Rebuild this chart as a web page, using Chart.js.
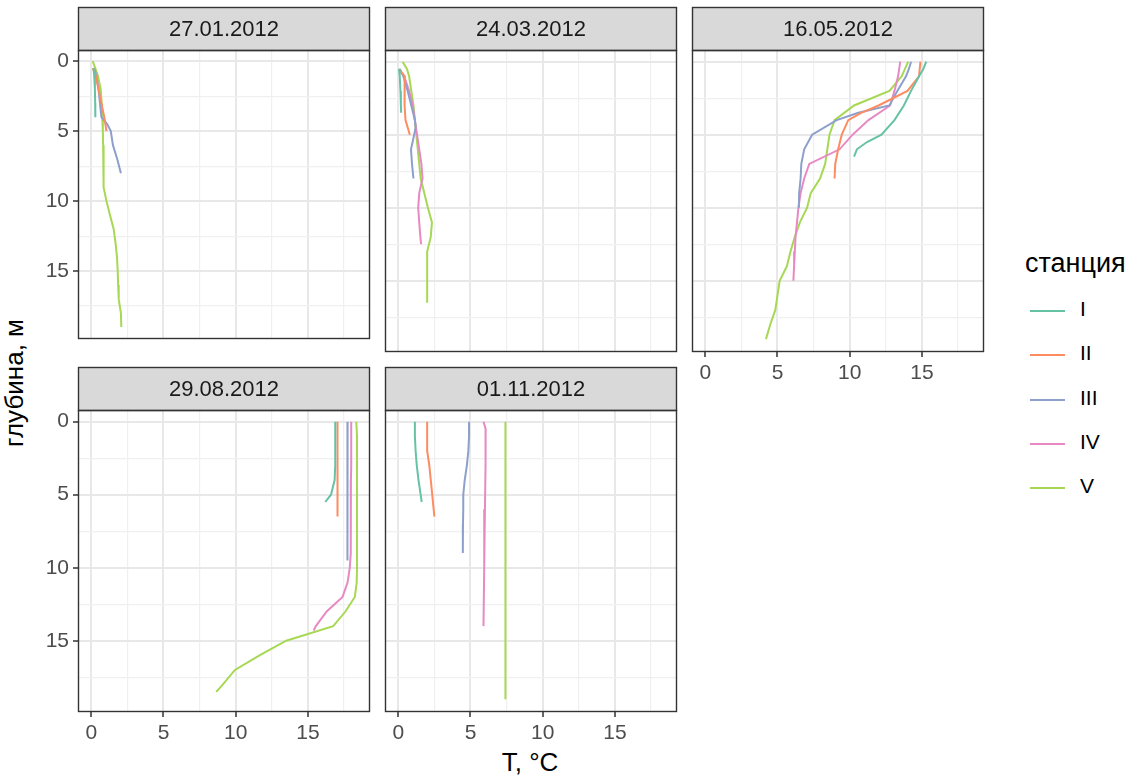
<!DOCTYPE html>
<html>
<head>
<meta charset="utf-8">
<script src="https://cdn.jsdelivr.net/npm/chart.js@4.4.1/dist/chart.umd.min.js"></script>
<style>
  html, body { margin: 0; padding: 0; background: #ffffff; }
  #wrap { position: relative; width: 1139px; height: 778px; overflow: hidden;
          font-family: "Liberation Sans", Arial, sans-serif; }
  #wrap canvas { position: absolute; }
  .axis-title { position: absolute; font-size: 26px; color: #000; white-space: nowrap; }
  #ytitle { left: 14px; top: 383px; transform: translate(-50%, -50%) rotate(-90deg); }
  #xtitle { left: 530px; top: 762px; transform: translate(-50%, -50%); }
  #legend { position: absolute; left: 1025px; top: 248px; }
  #legend .lg-title { font-size: 27px; color: #000; margin-bottom: 10px; }
  #legend .lg-row { position: relative; height: 44.3px; }
  #legend .lg-key { position: absolute; left: 5px; top: 21px; width: 35px; height: 2px; }
  #legend .lg-label { position: absolute; left: 55px; top: 8px; font-size: 21px; color: #000; }
</style>
</head>
<body>
<div id="wrap">
  <div id="ytitle" class="axis-title">глубина, м</div>
  <div id="xtitle" class="axis-title">T, °C</div>
  <div id="legend"></div>
</div>
<script>
// Survey dates (one facet each) and stations (one line each)
const dates = ['27.01.2012', '24.03.2012', '16.05.2012', '29.08.2012', '01.11.2012'];
const stations = ['I', 'II', 'III', 'IV', 'V'];
const stationColors = ['#66C2A5', '#FC8D62', '#8DA0CB', '#E78AC3', '#A6D854'];

// Axis ticks: labelled majors and unlabelled minors
const tempTicks = [0, 5, 10, 15];
const depthTicks = [0, 5, 10, 15];
const minorTicks = [2.5, 7.5, 12.5, 17.5];

// ---- 27.01.2012 : depth (m) / temperature (°C) profiles
const jan_I_depth   = [0.5, 1, 2, 3, 4];
const jan_I_temp    = [0.15, 0.2, 0.25, 0.27, 0.28];
const jan_II_depth  = [0.5, 1, 2, 3, 4, 5];
const jan_II_temp   = [0.1, 0.3, 0.5, 0.7, 0.9, 1.05];
const jan_III_depth = [0.5, 1, 2, 3, 4, 4.5, 5, 6, 7, 8];
const jan_III_temp  = [0.2, 0.35, 0.5, 0.6, 0.7, 1.1, 1.35, 1.5, 1.8, 2.05];
const jan_V_depth   = [0, 1, 2, 3, 4, 5, 6, 7, 8, 9, 10, 11, 12, 13, 14, 15, 16, 17, 18, 19];
const jan_V_temp    = [0.1, 0.45, 0.65, 0.72, 0.76, 0.8, 0.82, 0.84, 0.85, 0.87, 1.05, 1.3, 1.55, 1.68, 1.78, 1.83, 1.86, 1.9, 2.05, 2.08];

// ---- 24.03.2012
const mar_I_depth   = [0.5, 1, 2, 3, 3.5];
const mar_I_temp    = [0.05, 0.1, 0.15, 0.18, 0.2];
const mar_II_depth  = [0.5, 1, 2, 3, 4, 5];
const mar_II_temp   = [0.05, 0.45, 0.42, 0.45, 0.5, 0.8];
const mar_III_depth = [0.5, 1, 2, 3, 4, 4.5, 5, 6, 7, 8];
const mar_III_temp  = [0.1, 0.35, 0.65, 0.9, 1.15, 1.2, 1.1, 0.88, 0.95, 1.05];
const mar_IV_depth  = [0.5, 1, 2, 3, 4, 5, 6, 7, 8, 9, 10, 11, 12, 12.5];
const mar_IV_temp   = [0.05, 0.4, 0.75, 1.0, 1.15, 1.3, 1.45, 1.6, 1.68, 1.45, 1.38, 1.45, 1.53, 1.58];
const mar_V_depth   = [0, 0.5, 1, 2, 3, 4, 5, 6, 7, 8, 9, 10, 11, 12, 13, 14, 15, 16, 16.5];
const mar_V_temp    = [0.3, 0.6, 0.75, 0.9, 1.05, 1.15, 1.25, 1.35, 1.45, 1.55, 1.8, 2.05, 2.33, 2.25, 2.0, 2.0, 2.0, 2.0, 2.0];

// ---- 16.05.2012
const may_I_depth   = [0, 0.5, 1, 2, 3, 4, 5, 5.5, 6, 6.5];
const may_I_temp    = [15.3, 15.1, 14.8, 14.25, 13.75, 13.1, 12.2, 11.2, 10.5, 10.3];
const may_II_depth  = [0, 1, 2, 3, 3.5, 4, 5, 6, 7, 8];
const may_II_temp   = [14.9, 14.8, 14.0, 12.0, 10.8, 9.9, 9.45, 9.2, 9.0, 8.95];
const may_III_depth = [0, 0.5, 1, 2, 3, 3.5, 4, 5, 6, 7, 8, 9, 10];
const may_III_temp  = [14.25, 14.1, 13.9, 13.3, 12.75, 10.6, 9.1, 7.4, 6.85, 6.65, 6.6, 6.5, 6.48];
const may_IV_depth  = [0, 1, 2, 3, 4, 5, 6, 7, 8, 9, 10, 11, 12, 13, 14, 15];
const may_IV_temp   = [13.5, 13.35, 13.1, 12.8, 11.3, 10.2, 9.3, 7.2, 6.85, 6.6, 6.45, 6.35, 6.25, 6.2, 6.15, 6.1];
const may_V_depth   = [0, 1, 2, 3, 4, 5, 6, 7, 8, 9, 10, 11, 12, 13, 14, 15, 16, 17, 18, 19];
const may_V_temp    = [14.05, 13.6, 12.75, 10.3, 8.95, 8.6, 8.45, 8.3, 7.95, 7.3, 7.05, 6.55, 6.2, 5.9, 5.65, 5.15, 5.0, 4.85, 4.5, 4.2];

// ---- 29.08.2012
const aug_I_depth   = [0, 1, 2, 3, 4, 5, 5.5];
const aug_I_temp    = [16.9, 16.9, 16.9, 16.88, 16.85, 16.6, 16.2];
const aug_II_depth  = [0, 1, 2, 3, 4, 5, 6, 6.5];
const aug_II_temp   = [17.05, 17.05, 17.05, 17.05, 17.05, 17.05, 17.05, 17.05];
const aug_III_depth = [0, 1, 2, 3, 4, 5, 6, 7, 8, 9, 9.5];
const aug_III_temp  = [17.75, 17.75, 17.75, 17.75, 17.75, 17.74, 17.74, 17.73, 17.73, 17.72, 17.72];
const aug_IV_depth  = [0, 1, 2, 3, 4, 5, 6, 7, 8, 9, 10, 11, 12, 13, 14, 14.3];
const aug_IV_temp   = [18.0, 18.0, 18.0, 18.0, 17.98, 17.98, 17.97, 17.97, 17.96, 17.96, 17.9, 17.75, 17.4, 16.3, 15.55, 15.4];
const aug_V_depth   = [0, 1, 2, 3, 4, 5, 6, 7, 8, 9, 10, 11, 12, 13, 14, 15, 16, 17, 18, 18.5];
const aug_V_temp    = [18.35, 18.4, 18.4, 18.4, 18.4, 18.4, 18.4, 18.4, 18.4, 18.4, 18.4, 18.38, 18.25, 17.6, 16.75, 13.5, 11.65, 9.95, 9.1, 8.65];

// ---- 01.11.2012
const nov_I_depth   = [0, 1, 2, 3, 4, 5, 5.5];
const nov_I_temp    = [1.15, 1.15, 1.2, 1.28, 1.4, 1.55, 1.62];
const nov_II_depth  = [0, 1, 2, 3, 4, 5, 6, 6.5];
const nov_II_temp   = [2.0, 2.0, 2.0, 2.15, 2.25, 2.35, 2.45, 2.5];
const nov_III_depth = [0, 1, 2, 3, 4, 5, 6, 7, 8, 9];
const nov_III_temp  = [4.9, 4.9, 4.85, 4.75, 4.6, 4.5, 4.5, 4.48, 4.47, 4.47];
const nov_IV_depth  = [0, 0.5, 1, 2, 3, 6, 10, 14];
const nov_IV_temp   = [5.9, 6.05, 6.05, 6.05, 6.03, 6.0, 5.95, 5.9];
const nov_V_depth   = [0, 5, 10, 15, 19];
const nov_V_temp    = [7.42, 7.42, 7.42, 7.42, 7.42];

// Profiles grouped by facet: [station index, depths, temperatures]
const facetProfiles = [
  [[0, jan_I_depth, jan_I_temp], [1, jan_II_depth, jan_II_temp], [2, jan_III_depth, jan_III_temp], [4, jan_V_depth, jan_V_temp]],
  [[0, mar_I_depth, mar_I_temp], [1, mar_II_depth, mar_II_temp], [2, mar_III_depth, mar_III_temp], [3, mar_IV_depth, mar_IV_temp], [4, mar_V_depth, mar_V_temp]],
  [[0, may_I_depth, may_I_temp], [1, may_II_depth, may_II_temp], [2, may_III_depth, may_III_temp], [3, may_IV_depth, may_IV_temp], [4, may_V_depth, may_V_temp]],
  [[0, aug_I_depth, aug_I_temp], [1, aug_II_depth, aug_II_temp], [2, aug_III_depth, aug_III_temp], [3, aug_IV_depth, aug_IV_temp], [4, aug_V_depth, aug_V_temp]],
  [[0, nov_I_depth, nov_I_temp], [1, nov_II_depth, nov_II_temp], [2, nov_III_depth, nov_III_temp], [3, nov_IV_depth, nov_IV_temp], [4, nov_V_depth, nov_V_temp]]
];

// ---- layout of the 3 x 2 facet grid
const FONT = '"Liberation Sans", Arial, sans-serif';
const PANEL_W = 292, PLOT_H = 302, STRIP_H = 43, PAD = 4;
const COL_LEFT = [78, 385, 692];
const ROW_TOP = [50, 410];
const X_RANGE = [-0.92, 19.3];
const Y_RANGE = [-0.8, 19.88];

// Gray strip with the date + dark panel border, ggplot theme_bw style
const facetFrame = {
  id: 'facetFrame',
  afterDatasetsDraw(chart, args, opts) {
    const { ctx, chartArea: a } = chart;
    const L = Math.round(a.left) + 0.5;
    const R = Math.round(a.right) - 0.5;
    const T = Math.round(a.top) + 0.5;
    const B = Math.round(a.bottom) - 0.5;
    const S = T - STRIP_H;
    ctx.save();
    ctx.fillStyle = '#D9D9D9';
    ctx.fillRect(L, S, R - L, STRIP_H);
    ctx.strokeStyle = '#333333';
    ctx.lineWidth = 1.4;
    ctx.strokeRect(L, S, R - L, STRIP_H);
    ctx.strokeRect(L, T, R - L, B - T);
    ctx.fillStyle = '#1A1A1A';
    ctx.font = '22px ' + FONT;
    ctx.textAlign = 'center';
    ctx.textBaseline = 'middle';
    ctx.fillText(opts.label, (L + R) / 2, S + STRIP_H / 2 + 1);
    ctx.restore();
  }
};

function axisOptions(kind, showLabels, fixedSize) {
  const majors = kind === 'x' ? tempTicks : depthTicks;
  const isMajor = c => c.tick && majors.includes(c.tick.value);
  const opt = {
    type: 'linear',
    min: kind === 'x' ? X_RANGE[0] : Y_RANGE[0],
    max: kind === 'x' ? X_RANGE[1] : Y_RANGE[1],
    afterBuildTicks: s => { s.ticks = [...majors, ...minorTicks].sort((a, b) => a - b).map(v => ({ value: v })); },
    afterFit: s => { if (kind === 'x') s.height = fixedSize; else s.width = fixedSize; },
    border: { display: false },
    grid: {
      color: c => isMajor(c) ? '#E8E8E8' : '#F0F0F0',
      lineWidth: c => isMajor(c) ? 2 : 1.2,
      drawTicks: showLabels,
      tickLength: 5,
      tickWidth: 1.5,
      tickColor: c => isMajor(c) ? '#333333' : 'rgba(0,0,0,0)'
    },
    ticks: {
      display: showLabels,
      autoSkip: false,
      maxRotation: 0,
      padding: 4,
      color: '#4D4D4D',
      font: { family: FONT, size: 21 },
      callback: v => majors.includes(v) ? String(v) : ''
    }
  };
  if (kind === 'y') opt.reverse = true;
  return opt;
}

const wrap = document.getElementById('wrap');

dates.forEach((date, idx) => {
  const col = idx % 3, row = Math.floor(idx / 3);
  const showY = col === 0;
  const showX = row === 1 || idx === 2;
  const yw = showY ? 78 : 0;
  const xh = showX ? 40 : 0;
  const canvas = document.createElement('canvas');
  const w = PAD + yw + PANEL_W + PAD;
  const h = PAD + STRIP_H + PLOT_H + xh + PAD;
  canvas.width = w; canvas.height = h;
  canvas.style.width = w + 'px'; canvas.style.height = h + 'px';
  canvas.style.left = (COL_LEFT[col] - yw - PAD) + 'px';
  canvas.style.top = (ROW_TOP[row] - STRIP_H - PAD) + 'px';
  wrap.appendChild(canvas);

  const datasets = facetProfiles[idx].map(([s, depth, temp]) => ({
    label: stations[s],
    data: depth.map((d, i) => ({ x: temp[i], y: d })),
    borderColor: stationColors[s],
    backgroundColor: stationColors[s],
    borderWidth: 2,
    showLine: true,
    pointRadius: 0,
    tension: 0,
    fill: false
  }));

  new Chart(canvas, {
    type: 'scatter',
    data: { datasets },
    options: {
      responsive: false,
      devicePixelRatio: 1,
      animation: false,
      events: [],
      layout: { padding: { top: PAD + STRIP_H, left: PAD, right: PAD, bottom: PAD } },
      scales: {
        x: axisOptions('x', showX, xh),
        y: axisOptions('y', showY, yw)
      },
      plugins: {
        legend: { display: false },
        tooltip: { enabled: false },
        facetFrame: { label: date }
      }
    },
    plugins: [facetFrame]
  });
});

// Legend: station colour keys
const legend = document.getElementById('legend');
const lt = document.createElement('div');
lt.className = 'lg-title';
lt.textContent = 'станция';
legend.appendChild(lt);
stations.forEach((s, i) => {
  const r = document.createElement('div');
  r.className = 'lg-row';
  const k = document.createElement('div');
  k.className = 'lg-key';
  k.style.background = stationColors[i];
  const l = document.createElement('div');
  l.className = 'lg-label';
  l.textContent = s;
  r.appendChild(k); r.appendChild(l);
  legend.appendChild(r);
});
</script>
</body>
</html>
